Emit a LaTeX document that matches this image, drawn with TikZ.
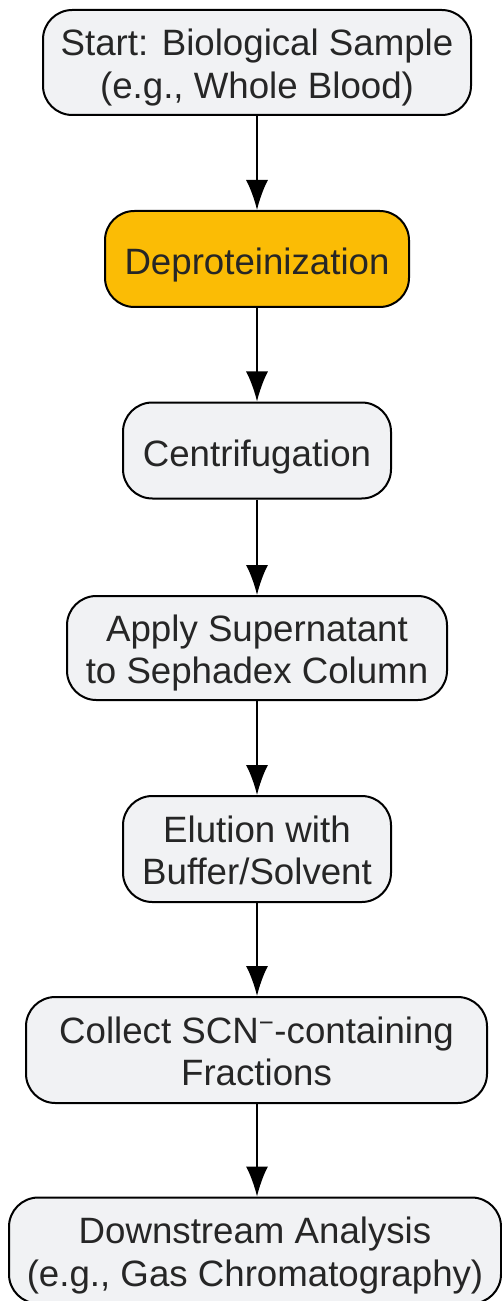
\documentclass[tikz,border=0pt]{standalone}
\usepackage{fontspec}
\setmainfont{Liberation Sans}
\usetikzlibrary{arrows.meta}
\definecolor{boxfill}{HTML}{F1F2F4}
\definecolor{hlfill}{HTML}{FBBC05}
\definecolor{txt}{HTML}{262626}
\tikzset{
  stepbox/.style={draw=black, line width=1.5pt, rounded corners=22pt, fill=boxfill, inner sep=0pt},
  steptext/.style={align=center, text=txt, inner sep=0pt, anchor=base,
    font=\fontsize{27.5pt}{31.9pt}\selectfont},
  flow/.style={draw=black, line width=1.5pt, -{Latex[length=22.5pt, width=16.5pt]}}
}
\begin{document}
\begin{tikzpicture}[x=0.75pt, y=-0.75pt]
\useasboundingbox (0,0) rectangle (502,1301);
\node[stepbox, minimum width=321pt, minimum height=78.75pt] (n1) at (257,62.5) {};
\node[steptext] (t1) at (257,98.5) {Start: Biological Sample\\(e.g., Whole Blood)};
\node[stepbox, fill=hlfill, minimum width=228pt, minimum height=72pt] (n2) at (257,259) {};
\node[steptext] (t2) at (257,274.5) {Deproteinization};
\node[stepbox, minimum width=201pt, minimum height=72pt] (n3) at (257,450.5) {};
\node[steptext] (t3) at (257,466) {Centrifugation};
\node[stepbox, minimum width=285pt, minimum height=78pt] (n4) at (257,648) {};
\node[steptext] (t4) at (257,683.8) {Apply Supernatant\\to Sephadex Column};
\node[stepbox, minimum width=201pt, minimum height=79.5pt] (n5) at (257,849) {};
\node[steptext] (t5) at (257,884.8) {Elution with\\Buffer/Solvent};
\node[stepbox, minimum width=345.75pt, minimum height=79.5pt] (n6) at (256.5,1050) {};
\node[steptext] (t6) at (256.5,1085.8) {Collect SCN\textsuperscript{\char"2212}-containing\\Fractions};
\node[stepbox, minimum width=369pt, minimum height=79.5pt] (n7) at (255,1250.5) {};
\node[steptext] (t7) at (255,1286.5) {Downstream Analysis\\(e.g., Gas Chromatography)};
\draw[flow] (n1.south -| 257,0) -- (n2.north -| 257,0);
\draw[flow] (n2) -- (n3);
\draw[flow] (n3) -- (n4);
\draw[flow] (n4) -- (n5);
\draw[flow] (n5.south) -- (n6.north -| n5.south);
\draw[flow] (n6.south -| n5.south) -- (n7.north -| n5.south);
\end{tikzpicture}
\end{document}
